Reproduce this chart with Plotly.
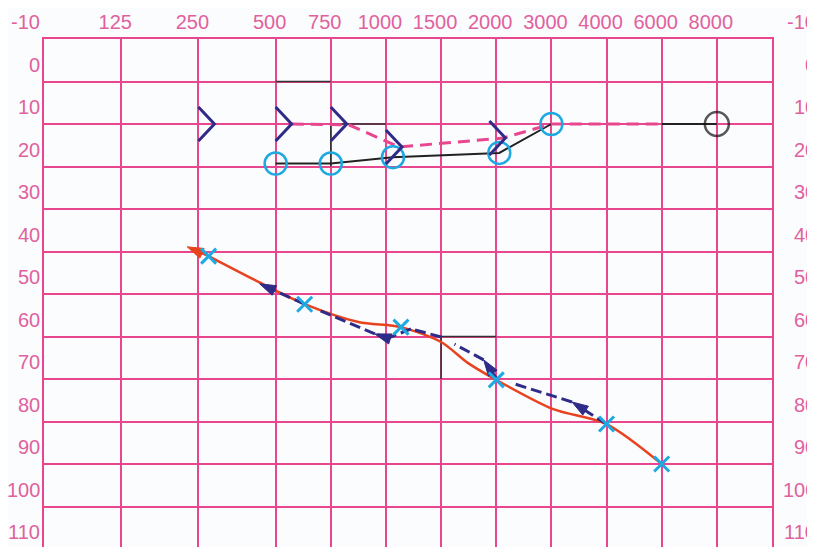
import numpy as np
import plotly.graph_objects as go

# audiogram form: frequency columns (Hz) and hearing level rows (dB)
FREQS = [125, 250, 500, 750, 1000, 1500, 2000, 3000, 4000, 6000, 8000]
FREQ_LABELS = ['125', '250', '500', '750', '1000', '1500', '2000', '3000', '4000', '6000', '8000']
DB_TICKS = [-10, 0, 10, 20, 30, 40, 50, 60, 70, 80, 90, 100, 110]
DB_LABELS = [str(v) for v in DB_TICKS]

# column spacing of the printed form (wide octaves up to 500, then even columns)
COL_POS = [1.4, 2.8, 4.2, 5.2, 6.2, 7.2, 8.2, 9.2, 10.2, 11.2, 12.2]
X_RANGE = [0, 13.2]

# upper curves
circle_hz = [500, 750, 1053, 2045, 3000]
circle_db = [19.3, 19.3, 17.8, 16.8, 10]
end_hz = [6000, 8000]
end_db = [10, 10]
chev_hz = [250, 500, 750, 1000, 1930]
chev_db = [10, 10, 10, 15.4, 13.3]
bone_hz = [563, 824, 1101, 2105, 3000, 6000]
bone_db = [10, 10.2, 15.4, 13.3, 10, 10]

# lower curves
x_hz = [274, 619, 1117, 2000, 4000, 6000]
x_db = [41.1, 52.4, 57.8, 70.2, 80.6, 90]
red_hz = [274, 414, 619, 866, 1117, 1500, 1724, 2000, 3030, 4000, 6000]
red_db = [41.1, 46.7, 52.4, 56.6, 57.8, 61.3, 66.2, 70.2, 77.1, 80.6, 90]
red_tip_hz = [274, 226]
red_tip_db = [41.1, 38.9]
blue_hz = [4000, 3340, 2000, 1873, 1500, 1202, 1015, 944, 619, 433]
blue_db = [80.6, 75.4, 69.8, 65.5, 60.1, 58.2, 60.4, 59.4, 52.4, 47.6]
blue_arrow = [0, 1, 0, 1, 0, 0, 0, 1, 0, 1]

# thin black brackets printed on the form
bracket_hz = [500, 750, None, 1000, 750, 750, None, 2000, 1500, 1500]
bracket_db = [0, 0, None, 10, 10, 20, None, 60, 60, 70]

GRID = '#e8468f'
TEXT = '#e0619d'
CYAN = '#1ea9e1'
NAVY = '#2f2b88'
RED = '#e8431e'
BG = '#fbfcfd'


def pos(hz):
    return [None if f is None else float(np.interp(np.log(f), np.log(FREQS), COL_POS)) for f in hz]


# chevron ">" symbols drawn as line pairs
CHEV_DX, CHEV_DY = 0.29, 4
chev_x, chev_y = [], []
for p, d in zip(pos(chev_hz), chev_db):
    chev_x += [p, p + CHEV_DX, p, None]
    chev_y += [d - CHEV_DY, d, d + CHEV_DY, None]

fig = go.Figure()

fig.add_trace(go.Scatter(x=pos(bracket_hz), y=bracket_db, mode='lines',
                         line=dict(color='#333333', width=1.5)))
fig.add_trace(go.Scatter(x=pos(circle_hz), y=circle_db, mode='lines',
                         line=dict(color='#222222', width=2)))
fig.add_trace(go.Scatter(x=pos(end_hz), y=end_db, mode='lines+markers',
                         line=dict(color='#222222', width=2),
                         marker=dict(symbol='circle-open', size=[0, 24], color='#111111',
                                     line=dict(width=2.5, color='#111111'))))
fig.add_trace(go.Scatter(x=pos(bone_hz), y=bone_db, mode='lines',
                         line=dict(color=GRID, width=3, dash='12px,7px')))
fig.add_trace(go.Scatter(x=pos(circle_hz), y=circle_db, mode='markers',
                         marker=dict(symbol='circle-open', size=22, color=CYAN,
                                     line=dict(width=2.5, color=CYAN))))
fig.add_trace(go.Scatter(x=chev_x, y=chev_y, mode='lines',
                         line=dict(color=NAVY, width=3)))

fig.add_trace(go.Scatter(x=pos(red_hz), y=red_db, mode='lines',
                         line=dict(color=RED, width=2.5, shape='spline', smoothing=0.8)))
fig.add_trace(go.Scatter(x=pos(red_tip_hz), y=red_tip_db, mode='lines+markers',
                         line=dict(color=RED, width=2.5),
                         marker=dict(symbol='arrow', size=[0, 17], color=RED, angleref='previous',
                                     opacity=1, line=dict(width=1, color=RED))))
fig.add_trace(go.Scatter(x=pos(blue_hz), y=blue_db, mode='lines+markers',
                         line=dict(color=NAVY, width=3, dash='11px,5px'),
                         marker=dict(symbol='arrow', size=[17 * a for a in blue_arrow],
                                     color=NAVY, angleref='previous', opacity=1,
                                     line=dict(width=1, color=NAVY))))
fig.add_trace(go.Scatter(x=pos(x_hz), y=x_db, mode='markers',
                         marker=dict(symbol='x-thin-open', size=15, color=CYAN,
                                     line=dict(width=3, color=CYAN))))

annotations = []
for v, t in zip(DB_TICKS, DB_LABELS):
    annotations.append(dict(x=0, xref='paper', y=v, yref='y', text=t, showarrow=False,
                            xanchor='right', xshift=-2, yshift=17))
    annotations.append(dict(x=1, xref='paper', y=v, yref='y', text=t, showarrow=False,
                            xanchor='right', xshift=46, yshift=17))

# the page puts the figure 8px right and 8px down, margins compensate for that
fig.update_layout(
    width=815, height=547,
    margin=dict(l=36, r=51, t=31, b=6),
    paper_bgcolor=BG, plot_bgcolor=BG,
    showlegend=False,
    font=dict(family='Liberation Sans, Arial, sans-serif', size=20, color=TEXT),
    annotations=annotations,
    xaxis=dict(range=X_RANGE, tickvals=COL_POS, ticktext=FREQ_LABELS, side='top',
               showgrid=True, gridcolor=GRID, gridwidth=2, zeroline=False,
               showline=True, linecolor=GRID, linewidth=2, automargin=False,
               ticks='', ticklabelshift=-6),
    yaxis=dict(range=[110, -10], tickvals=DB_TICKS, showticklabels=False,
               showgrid=True, gridcolor=GRID, gridwidth=2, zeroline=False,
               showline=True, mirror=True, linecolor=GRID, linewidth=2, automargin=False),
)

fig.write_html("out.html")
